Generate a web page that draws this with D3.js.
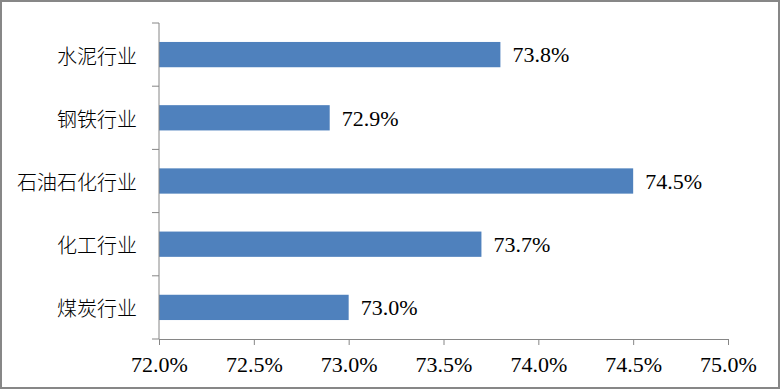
<!DOCTYPE html>
<html><head><meta charset="utf-8">
<script src="https://cdn.jsdelivr.net/npm/d3@7/dist/d3.min.js"></script>
<style>body{margin:0;background:#fff}svg{display:block}
.serif{font-family:"Liberation Serif","Times New Roman","DejaVu Serif",serif;}
</style>
</head><body>
<svg id="chart" width="781" height="390"></svg>
<script>
const categories = ["水泥行业","钢铁行业","石油石化行业","化工行业","煤炭行业"];
const values = [73.8, 72.9, 74.5, 73.7, 73.0];
const xTicks = [72.0, 72.5, 73.0, 73.5, 74.0, 74.5, 75.0];

const svg = d3.select("#chart");
const W = 781, H = 390;
const m = {left:159, right:53, top:23, bottom:51};

svg.append("rect").attr("x",1).attr("y",1).attr("width",W-3).attr("height",H-3)
  .attr("fill","#fff").attr("stroke","#878787").attr("stroke-width",2);

const x = d3.scaleLinear().domain([72,75]).range([m.left, W-m.right]);
const y = d3.scaleBand().domain(categories).range([m.top, H-m.bottom]).paddingInner(0.6).paddingOuter(0.3);
const yb = d3.scaleBand().domain(categories).range([m.top, H-m.bottom]);

const axisColor = "#868686";

svg.selectAll("rect.bar").data(categories).enter().append("rect")
  .attr("class","bar")
  .attr("x", x(72))
  .attr("y", d=>y(d))
  .attr("width", (d,i)=>x(values[i])-x(72))
  .attr("height", y.bandwidth())
  .attr("fill","#4F81BD");

svg.selectAll("text.val").data(categories).enter().append("text")
  .attr("class","val serif")
  .attr("x",(d,i)=>x(values[i])+12)
  .attr("y", d=>y(d)+y.bandwidth()/2)
  .attr("dy","0.35em")
  .style("font-size","22px")
  .attr("fill","#000")
  .text((d,i)=>values[i].toFixed(1)+"%");

const xAxis = d3.axisBottom(x).tickValues(xTicks).tickSize(6).tickSizeOuter(0)
  .tickFormat(d=>d.toFixed(1)+"%").tickPadding(11);
const gx = svg.append("g").attr("transform",`translate(0,${H-m.bottom})`).call(xAxis)
  .attr("font-family",null).attr("font-size",null);
gx.select(".domain").attr("stroke",axisColor);
gx.selectAll(".tick line").attr("stroke",axisColor);
gx.selectAll(".tick text").attr("class","serif")
  .style("font-size","22px").attr("fill","#000");

const gy = svg.append("g");
gy.append("line").attr("x1",x(72)).attr("x2",x(72)).attr("y1",m.top).attr("y2",H-m.bottom)
  .attr("stroke",axisColor);
const bounds = categories.map(c=>yb(c)).concat([H-m.bottom]);
gy.selectAll("line.t").data(bounds).enter().append("line").attr("class","t")
  .attr("x1",x(72)-7).attr("x2",x(72)).attr("y1",d=>d).attr("y2",d=>d)
  .attr("stroke",axisColor);
gy.selectAll("text").data(categories).enter().append("text")
  .attr("x", x(72)-22)
  .attr("y", d=>yb(d)+yb.bandwidth()/2+2)
  .attr("dy","0.35em")
  .attr("text-anchor","end")
  .style("font-family","'Noto Sans CJK SC',sans-serif")
  .style("font-size","20px")
  .style("font-weight","300")
  .attr("fill","#000")
  .text(d=>d);
</script>
</body></html>
